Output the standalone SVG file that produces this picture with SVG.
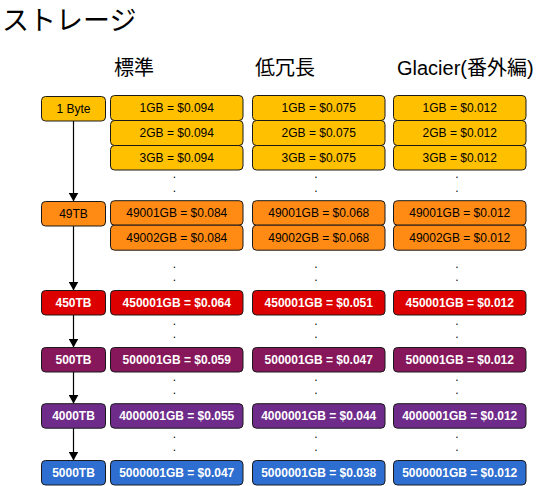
<svg xmlns="http://www.w3.org/2000/svg" width="544" height="486" viewBox="0 0 544 486">
<defs>
<marker id="ah" markerWidth="9" markerHeight="10" refX="9" refY="5" orient="auto" markerUnits="userSpaceOnUse" viewBox="0 0 9 10">
<path d="M0,0 L9,5 L0,10 Z" fill="#000"/>
</marker>
</defs>
<style>
.t{font-family:"Liberation Sans","Noto Sans CJK JP",Arial,sans-serif;font-size:12px;text-anchor:middle;fill:#000}
.b{font-weight:bold;fill:#fff}
.h{font-family:"Liberation Sans","Noto Sans CJK JP",sans-serif;font-size:20px;fill:#000}
.title{font-family:"Noto Sans CJK JP",sans-serif;font-size:27px;fill:#000}
.dot{font-family:"Liberation Sans",Arial,sans-serif;font-size:12px;text-anchor:middle;fill:#000}
rect{stroke:#1a1a1a;stroke-width:1}
.y{fill:#FFC000}.o{fill:#FF8A14}.r{fill:#DD0000}.m{fill:#86175A}.p{fill:#6F2B8A}.bl{fill:#2D6ED0}
.c{stroke:#000;stroke-width:1.2;fill:none}
</style>
<text class="title" x="2" y="30">ストレージ</text>
<text class="h" x="114" y="75">標準</text>
<text class="h" x="255" y="75">低冗長</text>
<text class="h" x="397" y="75">Glacier(番外編)</text>

<g id="connectors">
<line class="c" x1="73.5" y1="121" x2="73.5" y2="201.5" marker-end="url(#ah)"/>
<line class="c" x1="73.5" y1="226" x2="73.5" y2="290.5" marker-end="url(#ah)"/>
<line class="c" x1="73.5" y1="315" x2="73.5" y2="347.5" marker-end="url(#ah)"/>
<line class="c" x1="73.5" y1="372" x2="73.5" y2="403.7" marker-end="url(#ah)"/>
<line class="c" x1="73.5" y1="428.2" x2="73.5" y2="460.5" marker-end="url(#ah)"/>
</g>

<g id="tier-1byte"><rect class="y" x="41.5" y="96.5" width="64" height="24.5" rx="4"/><text class="t" x="73.5" y="113">1 Byte</text></g>
<g id="tier-49tb"><rect class="o" x="41.5" y="201.5" width="64" height="24.5" rx="4"/><text class="t" x="73.5" y="218">49TB</text></g>
<g id="tier-450tb"><rect class="r" x="41.5" y="290.5" width="64" height="24.5" rx="4"/><text class="t b" x="73.5" y="307">450TB</text></g>
<g id="tier-500tb"><rect class="m" x="41.5" y="347.5" width="64" height="24.5" rx="4"/><text class="t b" x="73.5" y="364">500TB</text></g>
<g id="tier-4000tb"><rect class="p" x="41.5" y="403.7" width="64" height="24.5" rx="4"/><text class="t b" x="73.5" y="420.2">4000TB</text></g>
<g id="tier-5000tb"><rect class="bl" x="41.5" y="460.5" width="64" height="24.5" rx="4"/><text class="t b" x="73.5" y="477">5000TB</text></g>

<g id="col-standard">
<rect class="y" x="110.5" y="95.5" width="132.5" height="25" rx="4"/><text class="t" x="176.75" y="112.3">1GB = $0.094</text>
<rect class="y" x="110.5" y="120.5" width="132.5" height="25" rx="4"/><text class="t" x="176.75" y="137.3">2GB = $0.094</text>
<rect class="y" x="110.5" y="145.5" width="132.5" height="24.5" rx="4"/><text class="t" x="176.75" y="162">3GB = $0.094</text>
<text class="dot" x="174.5" y="177.5">.</text><text class="dot" x="174.5" y="192.3">.</text>
<rect class="o" x="110.5" y="200.7" width="132.5" height="24.5" rx="4"/><text class="t" x="176.75" y="217.2">49001GB = $0.084</text>
<rect class="o" x="110.5" y="225.2" width="132.5" height="25" rx="4"/><text class="t" x="176.75" y="242">49002GB = $0.084</text>
<text class="dot" x="174.5" y="268">.</text><text class="dot" x="174.5" y="281.3">.</text>
<rect class="r" x="110.5" y="290.5" width="132.5" height="24.5" rx="4"/><text class="t b" x="176.75" y="307">450001GB = $0.064</text>
<text class="dot" x="174.5" y="324.5">.</text><text class="dot" x="174.5" y="338">.</text>
<rect class="m" x="110.5" y="347.5" width="132.5" height="24.5" rx="4"/><text class="t b" x="176.75" y="364">500001GB = $0.059</text>
<text class="dot" x="174.5" y="380.6">.</text><text class="dot" x="174.5" y="394">.</text>
<rect class="p" x="110.5" y="403.7" width="132.5" height="24.5" rx="4"/><text class="t b" x="176.75" y="420.2">4000001GB = $0.055</text>
<text class="dot" x="174.5" y="438">.</text><text class="dot" x="174.5" y="451.3">.</text>
<rect class="bl" x="110.5" y="460.5" width="132.5" height="24.5" rx="4"/><text class="t b" x="176.75" y="477">5000001GB = $0.047</text>
</g>

<g id="col-reduced">
<rect class="y" x="252.5" y="95.5" width="132.5" height="25" rx="4"/><text class="t" x="318.75" y="112.3">1GB = $0.075</text>
<rect class="y" x="252.5" y="120.5" width="132.5" height="25" rx="4"/><text class="t" x="318.75" y="137.3">2GB = $0.075</text>
<rect class="y" x="252.5" y="145.5" width="132.5" height="24.5" rx="4"/><text class="t" x="318.75" y="162">3GB = $0.075</text>
<text class="dot" x="316" y="177.5">.</text><text class="dot" x="316" y="192.3">.</text>
<rect class="o" x="252.5" y="200.7" width="132.5" height="24.5" rx="4"/><text class="t" x="318.75" y="217.2">49001GB = $0.068</text>
<rect class="o" x="252.5" y="225.2" width="132.5" height="25" rx="4"/><text class="t" x="318.75" y="242">49002GB = $0.068</text>
<text class="dot" x="316" y="268">.</text><text class="dot" x="316" y="281.3">.</text>
<rect class="r" x="252.5" y="290.5" width="132.5" height="24.5" rx="4"/><text class="t b" x="318.75" y="307">450001GB = $0.051</text>
<text class="dot" x="316" y="324.5">.</text><text class="dot" x="316" y="338">.</text>
<rect class="m" x="252.5" y="347.5" width="132.5" height="24.5" rx="4"/><text class="t b" x="318.75" y="364">500001GB = $0.047</text>
<text class="dot" x="316" y="380.6">.</text><text class="dot" x="316" y="394">.</text>
<rect class="p" x="252.5" y="403.7" width="132.5" height="24.5" rx="4"/><text class="t b" x="318.75" y="420.2">4000001GB = $0.044</text>
<text class="dot" x="316" y="438">.</text><text class="dot" x="316" y="451.3">.</text>
<rect class="bl" x="252.5" y="460.5" width="132.5" height="24.5" rx="4"/><text class="t b" x="318.75" y="477">5000001GB = $0.038</text>
</g>

<g id="col-glacier">
<rect class="y" x="393.5" y="95.5" width="132.5" height="25" rx="4"/><text class="t" x="459.75" y="112.3">1GB = $0.012</text>
<rect class="y" x="393.5" y="120.5" width="132.5" height="25" rx="4"/><text class="t" x="459.75" y="137.3">2GB = $0.012</text>
<rect class="y" x="393.5" y="145.5" width="132.5" height="24.5" rx="4"/><text class="t" x="459.75" y="162">3GB = $0.012</text>
<text class="dot" x="457" y="177.5">.</text><text class="dot" x="457" y="192.3">.</text>
<rect class="o" x="393.5" y="200.7" width="132.5" height="24.5" rx="4"/><text class="t" x="459.75" y="217.2">49001GB = $0.012</text>
<rect class="o" x="393.5" y="225.2" width="132.5" height="25" rx="4"/><text class="t" x="459.75" y="242">49002GB = $0.012</text>
<text class="dot" x="457" y="268">.</text><text class="dot" x="457" y="281.3">.</text>
<rect class="r" x="393.5" y="290.5" width="132.5" height="24.5" rx="4"/><text class="t b" x="459.75" y="307">450001GB = $0.012</text>
<text class="dot" x="457" y="324.5">.</text><text class="dot" x="457" y="338">.</text>
<rect class="m" x="393.5" y="347.5" width="132.5" height="24.5" rx="4"/><text class="t b" x="459.75" y="364">500001GB = $0.012</text>
<text class="dot" x="457" y="380.6">.</text><text class="dot" x="457" y="394">.</text>
<rect class="p" x="393.5" y="403.7" width="132.5" height="24.5" rx="4"/><text class="t b" x="459.75" y="420.2">4000001GB = $0.012</text>
<text class="dot" x="457" y="438">.</text><text class="dot" x="457" y="451.3">.</text>
<rect class="bl" x="393.5" y="460.5" width="132.5" height="24.5" rx="4"/><text class="t b" x="459.75" y="477">5000001GB = $0.012</text>
</g>
</svg>
